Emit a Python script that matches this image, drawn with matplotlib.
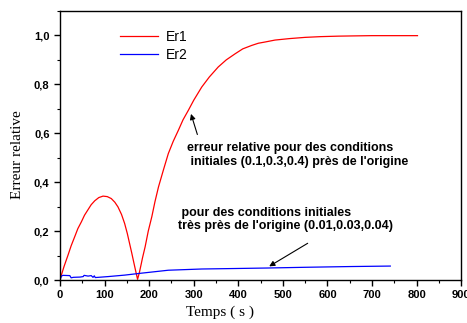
import matplotlib
matplotlib.use("Agg")
import matplotlib.pyplot as plt
from matplotlib.ticker import MultipleLocator, FuncFormatter

# Er1 : conditions initiales (0.1,0.3,0.4)
t_er1 = [0, 1.5, 9, 18, 25, 33, 40, 48, 55, 63, 70, 78, 87, 96.5, 106, 115,
         123, 130, 138, 145, 151, 156, 161, 166, 170, 174,
         178, 182.5, 185, 191, 198, 206, 213, 221, 232, 243, 254, 265.5, 276,
         288, 300, 318, 335, 355, 373, 393, 410, 430, 445, 460, 482.5, 515,
         550, 585, 624.6, 660, 699.5, 750, 802]
er1 = [0, 0.011, 0.055, 0.102, 0.14, 0.177, 0.21, 0.238, 0.265, 0.288, 0.308,
       0.324, 0.337, 0.343, 0.341, 0.333, 0.318, 0.299, 0.268, 0.231, 0.19,
       0.150, 0.11, 0.068, 0.035, 0.003,
       0.03, 0.068, 0.09, 0.136, 0.2, 0.259, 0.32, 0.381, 0.45, 0.517, 0.567,
       0.612, 0.655, 0.694, 0.735, 0.789, 0.83, 0.871, 0.9, 0.925, 0.945,
       0.959, 0.968, 0.973, 0.981, 0.987, 0.992, 0.995, 0.997, 0.998, 0.999,
       0.999, 0.999]

# Er2 : conditions initiales (0.01,0.03,0.04)
t_er2 = [0, 3, 6.7, 22, 25, 30, 45, 52, 54, 63, 70, 74, 77, 79, 108, 145,
         183, 243, 318, 393, 464, 550, 650, 741]
er2 = [0, 0.016, 0.019, 0.018, 0.009, 0.011, 0.012, 0.014, 0.019, 0.016,
       0.018, 0.011, 0.017, 0.010, 0.014, 0.020, 0.028, 0.040, 0.045, 0.047,
       0.049, 0.052, 0.055, 0.057]

fig = plt.figure(figsize=(4.67, 3.23), dpi=100)
ax = fig.add_axes([0.1285, 0.1331, 0.859, 0.833])

ax.plot(t_er1, er1, color='#ff0000', lw=0.9, label='Er1')
ax.plot(t_er2, er2, color='#0000ff', lw=0.9, label='Er2')

ax.set_xlim(0, 900)
ax.set_ylim(0, 1.1)
ax.xaxis.set_major_locator(MultipleLocator(100))
ax.xaxis.set_minor_locator(MultipleLocator(50))
ax.yaxis.set_major_locator(MultipleLocator(0.2))
ax.yaxis.set_minor_locator(MultipleLocator(0.1))
ax.yaxis.set_major_formatter(FuncFormatter(lambda v, p: f"{v:.1f}".replace('.', ',')))

ax.tick_params(which='major', direction='out', length=4, width=1.0)
ax.tick_params(which='minor', direction='out', length=2.5, width=0.8)
for lab in ax.get_xticklabels() + ax.get_yticklabels():
    lab.set_fontfamily('Liberation Sans')
    lab.set_fontweight('bold')
    lab.set_fontsize(8)
for s in ax.spines.values():
    s.set_linewidth(1.0)

ax.set_xlabel('Temps ( s )', family='Liberation Serif', fontsize=11)
ax.set_ylabel('Erreur relative', family='Liberation Serif', fontsize=11)
ax.xaxis.set_label_coords(0.40, -0.095)
ax.yaxis.set_label_coords(-0.09, 0.465)

ax.legend(loc='upper left', bbox_to_anchor=(0.15, 0.93), frameon=False,
          prop={'family': 'Liberation Sans', 'size': 10},
          handlelength=2.7, handletextpad=0.6, labelspacing=0.3,
          borderpad=0, borderaxespad=0)

ax.text(285, 0.51, "erreur relative pour des conditions\n initiales (0.1,0.3,0.4) près de l'origine",
        family='Liberation Sans', fontweight='bold', fontsize=9, va='center', ha='left')
ax.annotate('', xy=(292, 0.69), xytext=(310, 0.584),
            arrowprops=dict(arrowstyle='-|>', color='black', lw=0.8, mutation_scale=8))

ax.text(265, 0.247, " pour des conditions initiales\ntrès près de l'origine (0.01,0.03,0.04)",
        family='Liberation Sans', fontweight='bold', fontsize=9, va='center', ha='left')
ax.annotate('', xy=(464, 0.05), xytext=(561, 0.156),
            arrowprops=dict(arrowstyle='-|>', color='black', lw=0.8, mutation_scale=8))

fig.savefig('out.png', dpi=100)
